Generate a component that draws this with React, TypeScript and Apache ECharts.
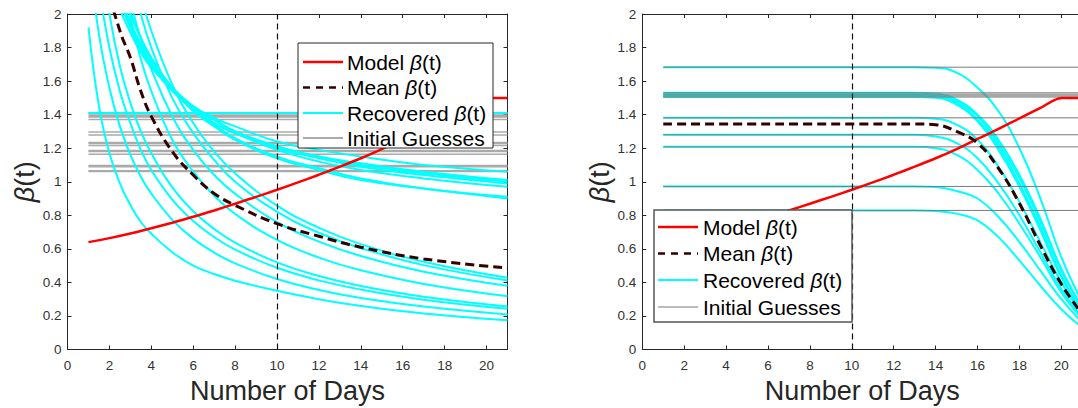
import React, { useEffect, useRef } from "react";
import * as echarts from "echarts";

// ---------- data ----------
const cutoffDay = 10;

// model beta(t), same in both panels
const modelDays = [1, 2, 3, 4, 5, 6, 7, 8, 9, 10, 11, 12, 13, 14, 15, 16, 17, 18, 19, 20, 21];
const modelBeta = [0.64, 0.664, 0.692, 0.723, 0.756, 0.791, 0.829, 0.869, 0.91, 0.952, 0.996, 1.042, 1.09, 1.14, 1.195, 1.255, 1.315, 1.378, 1.44, 1.5, 1.5];

// ---- left panel ----
const leftDays = [1, 1.5, 2, 2.5, 3, 3.5, 4, 5, 6, 7, 8, 10, 12, 14, 17, 21];
const leftMean = [3.6, 2.9, 2.15, 1.9, 1.74, 1.54, 1.39, 1.18, 1.04, 0.93, 0.86, 0.75, 0.675, 0.61, 0.54, 0.486];
const leftRecLow1 = [4.8, 3.82, 3.18, 2.72, 2.37, 2.11, 1.9, 1.58, 1.35, 1.18, 1.05, 0.858, 0.725, 0.628, 0.523, 0.428];
const leftRecLow2 = [4.45, 3.57, 2.99, 2.56, 2.25, 2.0, 1.8, 1.5, 1.29, 1.13, 1.0, 0.822, 0.696, 0.604, 0.503, 0.412];
const leftRecLow3 = [4.16, 3.33, 2.78, 2.38, 2.08, 1.85, 1.67, 1.39, 1.19, 1.04, 0.928, 0.759, 0.643, 0.557, 0.464, 0.38];
const leftRecLow4 = [4.74, 3.52, 2.8, 2.32, 1.98, 1.73, 1.54, 1.25, 1.06, 0.917, 0.808, 0.653, 0.548, 0.472, 0.391, 0.318];
const leftRecLow5 = [3.1, 2.43, 2.0, 1.69, 1.47, 1.3, 1.17, 0.966, 0.824, 0.718, 0.637, 0.519, 0.438, 0.379, 0.315, 0.257];
const leftRecLow6 = [2.71, 2.16, 1.8, 1.54, 1.35, 1.19, 1.07, 0.894, 0.766, 0.67, 0.595, 0.487, 0.412, 0.357, 0.297, 0.243];
const leftRecLow7 = [2.37, 1.88, 1.56, 1.33, 1.16, 1.03, 0.929, 0.773, 0.661, 0.578, 0.513, 0.42, 0.355, 0.307, 0.256, 0.209];
const leftRecLow8 = [1.92, 1.45, 1.17, 0.99, 0.86, 0.76, 0.69, 0.58, 0.5, 0.45, 0.41, 0.35, 0.3, 0.26, 0.215, 0.175];
const leftRecHigh1 = [2.9, 2.49, 2.22, 2.03, 1.89, 1.77, 1.68, 1.55, 1.45, 1.38, 1.33, 1.24, 1.19, 1.15, 1.1, 1.06];
const leftRecHigh2 = [3.03, 2.59, 2.29, 2.08, 1.92, 1.8, 1.7, 1.55, 1.44, 1.37, 1.3, 1.21, 1.15, 1.11, 1.06, 1.01];
const leftRecHigh3 = [3.09, 2.63, 2.33, 2.11, 1.94, 1.82, 1.71, 1.56, 1.45, 1.37, 1.3, 1.21, 1.15, 1.1, 1.05, 1.0];
const leftRecHigh4 = [3.05, 2.6, 2.29, 2.08, 1.92, 1.79, 1.69, 1.54, 1.43, 1.35, 1.29, 1.2, 1.14, 1.09, 1.04, 0.99];
const leftRecHigh5 = [3.14, 2.66, 2.35, 2.12, 1.95, 1.82, 1.71, 1.55, 1.44, 1.35, 1.29, 1.19, 1.12, 1.07, 1.02, 0.97];
const leftRecHigh6 = [3.35, 2.81, 2.46, 2.2, 2.01, 1.86, 1.74, 1.56, 1.43, 1.34, 1.26, 1.15, 1.08, 1.02, 0.96, 0.91];
const leftRecHigh7 = [3.34, 2.8, 2.44, 2.19, 2.0, 1.85, 1.73, 1.55, 1.42, 1.33, 1.25, 1.14, 1.07, 1.01, 0.96, 0.9];
const leftRecFlat = [1.41, 1.41];
const flatDays = [1, 21];
const leftGuesses = [1.41, 1.397, 1.387, 1.371, 1.297, 1.279, 1.234, 1.228, 1.216, 1.186, 1.18, 1.164, 1.097, 1.09, 1.066, 1.062];

// ---- right panel ----
const rightDays = [1, 12, 13, 14, 15, 16, 17, 18, 19, 20, 21];
const rightMean = [1.345, 1.345, 1.345, 1.34, 1.3, 1.23, 1.08, 0.87, 0.62, 0.39, 0.21];
const rightRec1 = [1.683, 1.683, 1.683, 1.68, 1.65, 1.56, 1.42, 1.2, 0.9, 0.55, 0.28];
const rightRec2 = [1.53, 1.53, 1.53, 1.525, 1.49, 1.4, 1.25, 1.04, 0.78, 0.48, 0.25];
const rightRec3 = [1.522, 1.522, 1.522, 1.515, 1.48, 1.39, 1.23, 1.02, 0.76, 0.47, 0.25];
const rightRec4 = [1.512, 1.512, 1.512, 1.505, 1.47, 1.37, 1.21, 0.99, 0.73, 0.44, 0.23];
const rightRec5 = [1.505, 1.505, 1.505, 1.5, 1.46, 1.36, 1.19, 0.97, 0.71, 0.43, 0.22];
const rightRec6 = [1.381, 1.381, 1.381, 1.375, 1.34, 1.25, 1.09, 0.88, 0.64, 0.4, 0.21];
const rightRec7 = [1.28, 1.28, 1.28, 1.27, 1.23, 1.14, 0.99, 0.8, 0.58, 0.36, 0.19];
const rightRec8 = [1.208, 1.208, 1.208, 1.2, 1.16, 1.07, 0.93, 0.75, 0.55, 0.34, 0.18];
const rightRec9 = [0.972, 0.972, 0.972, 0.968, 0.945, 0.9, 0.79, 0.64, 0.47, 0.3, 0.16];
const rightRec10 = [0.829, 0.829, 0.829, 0.825, 0.81, 0.77, 0.67, 0.53, 0.38, 0.24, 0.13];
const rightGuesses = [1.683, 1.53, 1.522, 1.512, 1.505, 1.381, 1.28, 1.208, 0.972, 0.829];

const xTickLabels = ["0", "2", "4", "6", "8", "10", "12", "14", "16", "18", "20"];

// ---------- styling ----------
const FONT = "'Liberation Sans', Arial, Helvetica, sans-serif";
const AX = "#262626";
const CYAN = "#00ffff";
const RED = "#ff0000";
const MEANC = "#330000";
const LEG_FS = 21;

const pairs = (xs: number[], ys: number[]) => xs.map((x, i) => [x, ys[i]]);

function xAxes(gridIndex: number) {
  return [
    {
      type: "value", gridIndex, min: 0, max: 21, interval: 2, position: "bottom",
      axisLine: { show: true, onZero: false, lineStyle: { color: AX, width: 1 } },
      axisTick: { show: true, inside: true, length: 4, lineStyle: { color: AX } },
      axisLabel: {
        color: "#333", fontSize: 13.5, fontFamily: FONT, margin: 9,
        formatter: (v: number) => (xTickLabels.indexOf(String(v)) >= 0 ? String(v) : ""),
      },
      splitLine: { show: false },
      name: "Number of Days", nameLocation: "middle", nameGap: 28,
      nameTextStyle: { fontSize: 27, color: AX, fontFamily: FONT },
    },
    {
      type: "value", gridIndex, min: 0, max: 21, interval: 2, position: "top",
      axisLine: { show: true, onZero: false, lineStyle: { color: AX, width: 1 } },
      axisTick: { show: true, inside: true, length: 4, lineStyle: { color: AX } },
      axisLabel: { show: false }, splitLine: { show: false },
    },
  ];
}

function yAxes(gridIndex: number, nameGap: number) {
  return [
    {
      type: "value", gridIndex, min: 0, max: 2, interval: 0.2, position: "left",
      axisLine: { show: true, onZero: false, lineStyle: { color: AX, width: 1 } },
      axisTick: { show: true, inside: true, length: 4, lineStyle: { color: AX } },
      axisLabel: { color: "#333", fontSize: 13.5, fontFamily: FONT, margin: 6 },
      splitLine: { show: false },
      name: "{b|β}(t)", nameLocation: "middle", nameGap, nameRotate: 90,
      nameTextStyle: {
        fontSize: 27, color: AX, fontFamily: FONT,
        rich: { b: { fontSize: 27, fontStyle: "italic", fontFamily: FONT, color: AX } },
      },
    },
    {
      type: "value", gridIndex, min: 0, max: 2, interval: 0.2, position: "right",
      axisLine: { show: true, onZero: false, lineStyle: { color: AX, width: 1 } },
      axisTick: { show: true, inside: true, length: 4, lineStyle: { color: AX } },
      axisLabel: { show: false }, splitLine: { show: false },
    },
  ];
}

function line(xi: number, yi: number, data: number[][], color: string, width: number, type: any = "solid", extra: any = {}) {
  return {
    type: "line", xAxisIndex: xi, yAxisIndex: yi, data, symbol: "none", showSymbol: false,
    silent: true, clip: true, animation: false, emphasis: { disabled: true },
    lineStyle: { color, width, type }, itemStyle: { color },
    ...extra,
  };
}

function legendGraphic(box: { x: number; y: number; w: number; h: number }, rows: number[], lx1: number, lx2: number, tx: number, borderColor: string, borderWidth: number, guessColor: string, guessWidth: number) {
  const rich = { b: { fontStyle: "italic", fontSize: LEG_FS, fontFamily: FONT, fill: "#000" } };
  const items = [
    { text: "Model {b|β}(t)", stroke: RED, width: 2.5, dash: null },
    { text: "Mean {b|β}(t)", stroke: MEANC, width: 2.5, dash: [7, 6] },
    { text: "Recovered {b|β}(t)", stroke: CYAN, width: 2, dash: null },
    { text: "Initial Guesses", stroke: guessColor, width: guessWidth, dash: null },
  ];
  const out: any[] = [
    {
      type: "rect", z: 100, silent: true,
      shape: { x: box.x, y: box.y, width: box.w, height: box.h },
      style: { fill: "#fff", stroke: borderColor, lineWidth: borderWidth },
    },
  ];
  items.forEach((it, i) => {
    out.push({
      type: "line", z: 101, silent: true,
      shape: { x1: lx1, y1: rows[i], x2: lx2, y2: rows[i] },
      style: { stroke: it.stroke, lineWidth: it.width, lineDash: it.dash || undefined },
    });
    out.push({
      type: "text", z: 101, silent: true, x: tx, y: rows[i],
      style: { text: it.text, rich, fontSize: LEG_FS, fontFamily: FONT, fill: "#000", verticalAlign: "middle", align: "left" },
    });
  });
  return out;
}

export default function App() {
  const ref = useRef<HTMLDivElement>(null);
  useEffect(() => {
    if (!ref.current) return;
    const chart = echarts.init(ref.current, null, { renderer: "svg" });

    const leftLow = [leftRecLow1, leftRecLow2, leftRecLow3, leftRecLow4, leftRecLow5, leftRecLow6, leftRecLow7, leftRecLow8];
    const leftHigh = [leftRecHigh1, leftRecHigh2, leftRecHigh3, leftRecHigh4, leftRecHigh5, leftRecHigh6, leftRecHigh7];
    const rightRec = [rightRec1, rightRec2, rightRec3, rightRec4, rightRec5, rightRec6, rightRec7, rightRec8, rightRec9, rightRec10];

    const smooth = { smooth: 0.45 };
    const cutoffMark = {
      markLine: {
        silent: true, symbol: ["none", "none"], label: { show: false }, animation: false,
        lineStyle: { color: "#111", width: 1.2, type: [6, 4] },
        data: [{ xAxis: cutoffDay }],
      },
    };

    const series: any[] = [];
    // left panel (axes 0/1)
    leftGuesses.forEach((g) => series.push(line(0, 0, pairs(flatDays, [g, g]), "#aaaaaa", 1.6)));
    leftLow.forEach((c) => series.push(line(0, 0, pairs(leftDays, c), CYAN, 2, "solid", smooth)));
    leftHigh.forEach((c) => series.push(line(0, 0, pairs(leftDays, c), CYAN, 2, "solid", smooth)));
    series.push(line(0, 0, pairs(flatDays, leftRecFlat), CYAN, 2));
    series.push(line(0, 0, pairs(modelDays, modelBeta), RED, 2.5, "solid", { smooth: 0.3 }));
    series.push(line(0, 0, pairs(leftDays, leftMean), MEANC, 3, [9, 5], { ...smooth, ...cutoffMark }));
    // right panel (axes 2/3)
    rightRec.forEach((c) => series.push(line(2, 2, pairs(rightDays, c), CYAN, 2, "solid", smooth)));
    rightGuesses.forEach((g) => series.push(line(2, 2, pairs(flatDays, [g, g]), "#7a7a7a", 1)));
    series.push(line(2, 2, pairs(modelDays, modelBeta), RED, 2.5, "solid", { smooth: 0.3 }));
    series.push(line(2, 2, pairs(rightDays, rightMean), MEANC, 3, [9, 5], { ...smooth, ...cutoffMark }));

    chart.setOption({
      animation: false,
      backgroundColor: "#fff",
      textStyle: { fontFamily: FONT },
      grid: [
        { left: 67.5, top: 14, width: 440, height: 335.5, containLabel: false, outerBoundsMode: "none", show: false },
        { left: 642.3, top: 14, width: 440, height: 335.5, containLabel: false, outerBoundsMode: "none", show: false },
      ],
      xAxis: [...xAxes(0), ...xAxes(1)],
      yAxis: [...yAxes(0, 23), ...yAxes(1, 28)],
      series,
      graphic: [
        ...legendGraphic({ x: 298, y: 43, w: 195, h: 105 }, [62, 87.5, 113, 138], 303, 343, 347, "#262626", 1, "#aaaaaa", 2),
        ...legendGraphic({ x: 654, y: 210, w: 198, h: 112 }, [227, 253.5, 280, 307], 658, 698, 703, "#555555", 1.5, "#7a7a7a", 1),
      ],
    });
    return () => chart.dispose();
  }, []);

  return (
    <div style={{ position: "absolute", left: 0, top: 0, width: 1078, height: 408, overflow: "hidden", background: "#fff" }}>
      <div ref={ref} style={{ width: 1078, height: 408 }} />
    </div>
  );
}
